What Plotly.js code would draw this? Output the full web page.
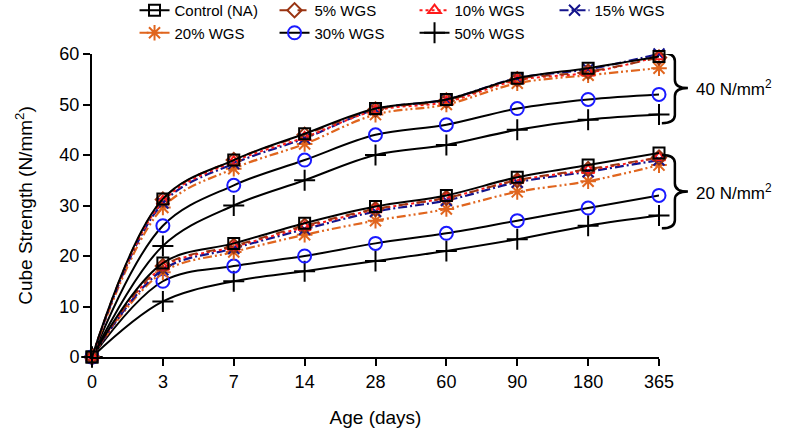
<!DOCTYPE html>
<html>
<head>
<meta charset="utf-8">
<script src="https://cdn.plot.ly/plotly-3.0.1.min.js"></script>
<style>html,body{margin:0;padding:0;background:#fff;}#chart{width:787px;height:438px;}</style>
</head>
<body>
<div id="chart"></div>
<script>
// Categories (age in days)
const days = ['0', '3', '7', '14', '28', '60', '90', '180', '365'];
const seriesNames = ['Control (NA)', '5% WGS', '10% WGS', '15% WGS', '20% WGS', '30% WGS', '50% WGS'];

// 40 N/mm² grade
const control40 = [0, 31.3, 39.0, 44.2, 49.2, 51.0, 55.2, 57.2, 59.5];
const wgs5_40   = [0, 31.2, 39.0, 44.0, 49.0, 50.8, 55.0, 56.5, 59.3];
const wgs10_40  = [0, 30.8, 38.7, 43.5, 48.8, 50.5, 54.8, 56.3, 59.5];
const wgs15_40  = [0, 30.5, 38.3, 43.3, 49.0, 51.0, 55.2, 57.0, 60.0];
const wgs20_40  = [0, 29.6, 37.3, 42.2, 48.0, 50.0, 54.2, 55.8, 57.2];
const wgs30_40  = [0, 26.0, 34.0, 39.0, 44.0, 46.0, 49.2, 51.0, 52.0];
const wgs50_40  = [0, 22.0, 30.0, 35.0, 40.0, 42.0, 45.0, 47.0, 48.0];

// 20 N/mm² grade
const control20 = [0, 18.6, 22.5, 26.5, 29.8, 32.0, 35.6, 38.0, 40.4];
const wgs5_20   = [0, 18.0, 22.0, 26.0, 29.3, 31.5, 35.0, 37.2, 39.5];
const wgs10_20  = [0, 17.8, 21.8, 25.7, 29.2, 31.5, 35.0, 37.0, 39.5];
const wgs15_20  = [0, 17.3, 21.5, 25.3, 28.8, 31.0, 34.6, 36.7, 39.0];
const wgs20_20  = [0, 16.8, 20.8, 24.2, 27.0, 29.3, 32.7, 34.8, 38.0];
const wgs30_20  = [0, 15.0, 18.0, 20.0, 22.5, 24.5, 27.0, 29.5, 32.0];
const wgs50_20  = [0, 11.0, 15.0, 17.0, 19.0, 21.0, 23.3, 26.0, 28.0];

const grade40 = [control40, wgs5_40, wgs10_40, wgs15_40, wgs20_40, wgs30_40, wgs50_40];
const grade20 = [control20, wgs5_20, wgs10_20, wgs15_20, wgs20_20, wgs30_20, wgs50_20];

// Group brace labels
const groupLabels = ['40 N/mm<sup>2</sup>', '20 N/mm<sup>2</sup>'];
const braceTop = [60.2, 40.0];
const braceBottom = [46.3, 25.5];

const styles = [
  {line: {color: '#000000', width: 2, dash: 'solid'}, marker: {symbol: 'square-open', size: 11, color: '#000000', line: {width: 2}}},
  {line: {color: '#9a3412', width: 2, dash: 'dash'}, marker: {symbol: 'diamond-open', size: 11, color: '#9a3412', line: {width: 2}}},
  {line: {color: '#ff1a1a', width: 2, dash: '3px,3px'}, marker: {symbol: 'triangle-up-open', size: 11, color: '#ff1a1a', line: {width: 2}}},
  {line: {color: '#14148c', width: 2.2, dash: '9px,3px,2px,3px'}, marker: {symbol: 'x-thin-open', size: 11, color: '#14148c', line: {width: 2}}},
  {line: {color: '#e0651e', width: 2.2, dash: '9px,3px,2px,3px,2px,3px'}, marker: {symbol: 'asterisk-open', size: 13, color: '#e0651e', line: {width: 2}}},
  {line: {color: '#000000', width: 2, dash: 'solid'}, marker: {symbol: 'circle-open', size: 13, color: '#1a1aff', line: {width: 2}}},
  {line: {color: '#000000', width: 2, dash: 'solid'}, marker: {symbol: 'cross-thin-open', size: 15, color: '#000000', line: {width: 2}}}
];

const traces = [];
function addGroup(group, showLegend) {
  for (let i = seriesNames.length - 1; i >= 0; i--) {
    traces.push({
      type: 'scatter', mode: 'lines+markers',
      x: days, y: group[i],
      name: seriesNames[i], legendgroup: 'g' + i, showlegend: showLegend,
      line: Object.assign({shape: 'spline', smoothing: 1}, styles[i].line),
      marker: styles[i].marker,
      cliponaxis: false, legendrank: i + 1
    });
  }
}
addGroup(grade20, false);
addGroup(grade40, true);

// Curly braces drawn as paths (x in paper, y in data units)
function bracePath(yt, yb) {
  const x0 = 1.005, x1 = 1.028, x2 = 1.051;
  const ym = (yt + yb) / 2, r = 1.6;
  return `M ${x0} ${yt} Q ${x1} ${yt} ${x1} ${yt - r} L ${x1} ${ym + r} Q ${x1} ${ym} ${x2} ${ym} ` +
         `Q ${x1} ${ym} ${x1} ${ym - r} L ${x1} ${yb + r} Q ${x1} ${yb} ${x0} ${yb}`;
}
const shapes = braceTop.map((t, k) => ({
  type: 'path', xref: 'paper', yref: 'y', path: bracePath(t, braceBottom[k]),
  line: {color: '#000', width: 2.5}
}));
const annotations = groupLabels.map((txt, k) => ({
  xref: 'paper', yref: 'y', x: 1.062, y: (braceTop[k] + braceBottom[k]) / 2,
  xanchor: 'left', yanchor: 'middle', showarrow: false, text: txt,
  font: {size: 17, color: '#000'}
}));

const layout = {
  width: 787, height: 438,
  margin: {l: 92, r: 128, t: 54, b: 81, autoexpand: false},
  paper_bgcolor: '#fff', plot_bgcolor: '#fff',
  font: {family: 'Arial, "Liberation Sans", sans-serif', color: '#000', size: 15},
  showlegend: true,
  legend: {
    orientation: 'h', x: 0.075, xanchor: 'left', y: 1.198, yanchor: 'top',
    font: {size: 15}, entrywidth: 95, entrywidthmode: 'pixels',
    traceorder: 'normal', tracegroupgap: 0, bgcolor: 'rgba(0,0,0,0)'
  },
  xaxis: {
    type: 'category', range: [0, 8], showgrid: false, zeroline: false,
    showline: true, linecolor: '#000', linewidth: 2,
    ticks: 'outside', ticklen: 7, tickwidth: 2, tickcolor: '#000',
    tickfont: {size: 18},
    title: {text: 'Age (days)', font: {size: 19}, standoff: 20}
  },
  yaxis: {
    range: [0, 60], dtick: 10, showgrid: false, zeroline: false,
    showline: true, linecolor: '#000', linewidth: 2,
    ticks: 'outside', ticklen: 7, tickwidth: 2, tickcolor: '#000',
    tickfont: {size: 18},
    title: {text: 'Cube Strength (N/mm<sup>2</sup>)', font: {size: 19}, standoff: 22}
  },
  shapes: shapes, annotations: annotations
};

Plotly.newPlot('chart', traces, layout, {displayModeBar: false, staticPlot: true});
</script>
</body>
</html>
